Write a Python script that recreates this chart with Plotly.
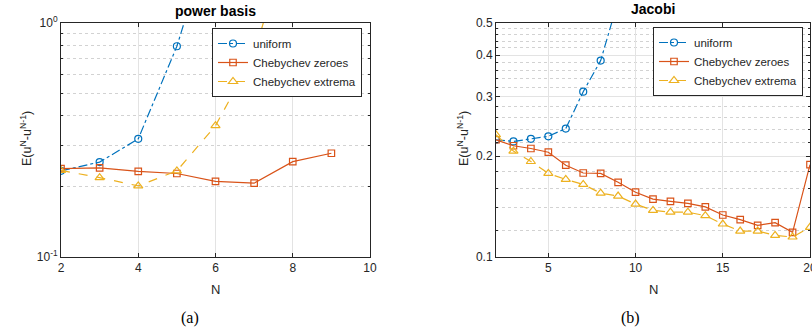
import plotly.graph_objects as go

# ---- data ----
N_left_uniform = [2, 3, 4, 5, 6]
E_left_uniform = [0.233, 0.254, 0.319, 0.792, 2.7]
N_left_zeros = [2, 3, 4, 5, 6, 7, 8, 9]
E_left_zeros = [0.238, 0.240, 0.2316, 0.227, 0.210, 0.2065, 0.255, 0.277]
N_left_extrema = [2, 3, 4, 5, 6, 7, 8]
E_left_extrema = [0.234, 0.218, 0.201, 0.233, 0.363, 0.73, 2.7]

N_right_uniform = [2, 3, 4, 5, 6, 7, 8, 9]
E_right_uniform = [0.2236, 0.221, 0.225, 0.229, 0.2415, 0.311, 0.385, 0.58]
N_right = list(range(2, 21))
E_right_zeros = [0.2236, 0.2146, 0.2106, 0.2053, 0.1878, 0.178, 0.1775, 0.167,
                 0.156, 0.1488, 0.1465, 0.1445, 0.141, 0.1334, 0.1292, 0.1243,
                 0.1266, 0.1184, 0.1884]
E_right_extrema = [0.2314, 0.2068, 0.1926, 0.1775, 0.1703, 0.1646, 0.155, 0.1519,
                   0.1438, 0.1377, 0.136, 0.136, 0.1328, 0.1254, 0.1195, 0.1195,
                   0.116, 0.1147, 0.1226]

series_names = ["uniform", "Chebychev zeroes", "Chebychev extrema"]
left_xticks = [2, 4, 6, 8, 10]
right_xticks = [5, 10, 15, 20]
left_yticks = [0.1, 1]
left_yticktext = ["10<sup>-1</sup>", "10<sup>0</sup>"]
right_yticks = [0.1, 0.2, 0.3, 0.4, 0.5]
right_yticktext = ["0.1", "0.2", "0.3", "0.4", "0.5"]
left_minor = [0.2, 0.3, 0.4, 0.5, 0.6, 0.7, 0.8, 0.9]
right_minor = [0.12, 0.14, 0.16, 0.18, 0.22, 0.24, 0.26, 0.28, 0.32, 0.34,
               0.36, 0.38, 0.42, 0.44, 0.46, 0.48]

BLUE = "#0072BD"
ORANGE = "#D95319"
YELLOW = "#EDB120"
AX = "#262626"
FONT = "Liberation Sans, Arial, sans-serif"

W, H = 812, 333

def px(x):
    return x / W

def py(y):
    return 1 - y / H

fig = go.Figure()

def add_series(xs, ys, name, color, dash, symbol, xa, ya, legend, size):
    fig.add_trace(go.Scatter(
        x=xs, y=ys, name=name, mode="lines+markers",
        line=dict(color=color, width=1.2, dash=dash),
        marker=dict(symbol=symbol, size=size, color=color,
                    line=dict(color=color, width=1.2)),
        xaxis=xa, yaxis=ya, legend=legend, cliponaxis=True))

add_series(N_left_uniform, E_left_uniform, series_names[0], BLUE, "dashdot", "circle-open", "x", "y", "legend", 7)
add_series(N_left_zeros, E_left_zeros, series_names[1], ORANGE, "solid", "square-open", "x", "y", "legend", 6.5)
add_series(N_left_extrema, E_left_extrema, series_names[2], YELLOW, "dash", "triangle-up-open", "x", "y", "legend", 8)

add_series(N_right_uniform, E_right_uniform, series_names[0], BLUE, "dashdot", "circle-open", "x2", "y2", "legend2", 7)
add_series(N_right, E_right_zeros, series_names[1], ORANGE, "solid", "square-open", "x2", "y2", "legend2", 6.5)
add_series(N_right, E_right_extrema, series_names[2], YELLOW, "dash", "triangle-up-open", "x2", "y2", "legend2", 8)

common_axis = dict(showline=True, linecolor=AX, linewidth=1, mirror="ticks",
                   ticks="inside", ticklen=4, tickcolor=AX, zeroline=False,
                   tickfont=dict(family=FONT, size=12, color=AX),
                   gridcolor="#e3e3e3", gridwidth=1, automargin=False,
                   ticklabeloverflow="allow")

MINOR_GRID = "#d2d2d2"

L0, L1 = 61, 370
R0, R1 = 496, 810
T, B = 22.5, 257

fig.update_layout(
    width=W, height=H,
    margin=dict(l=0, r=0, t=0, b=0),
    paper_bgcolor="white", plot_bgcolor="white",
    font=dict(family=FONT, size=12, color=AX),
    xaxis=dict(domain=[px(L0), px(L1)], range=[2, 10], tickvals=left_xticks,
               showgrid=True, anchor="y", **common_axis),
    yaxis=dict(domain=[py(B), py(T)], type="log", range=[-1, 0],
               tickvals=left_yticks, ticktext=left_yticktext, showgrid=False,
               anchor="x",
               minor=dict(tickvals=left_minor, showgrid=True, griddash="dot",
                          gridcolor=MINOR_GRID, ticks="inside", ticklen=2,
                          tickcolor=AX),
               **common_axis),
    xaxis2=dict(domain=[px(R0), px(R1)], range=[2, 20], tickvals=right_xticks,
                showgrid=True, anchor="y2", **common_axis),
    yaxis2=dict(domain=[py(B), py(T)], type="log", range=[-1, -0.30103],
                tickvals=right_yticks, ticktext=right_yticktext, showgrid=True,
                anchor="x2",
                minor=dict(tickvals=right_minor, showgrid=True, griddash="dot",
                           gridcolor=MINOR_GRID, ticks="inside", ticklen=2,
                           tickcolor=AX),
                **common_axis),
    legend=dict(x=px(362), y=py(28), xanchor="right", yanchor="top",
                bgcolor="white", bordercolor=AX, borderwidth=1,
                font=dict(family=FONT, size=11.5, color=AX),
                itemwidth=30, tracegroupgap=0),
    legend2=dict(x=px(803), y=py(27), xanchor="right", yanchor="top",
                 bgcolor="white", bordercolor=AX, borderwidth=1,
                 font=dict(family=FONT, size=11.5, color=AX),
                 itemwidth=30, tracegroupgap=0),
    showlegend=True,
)

ytitle = "E(u<sup>N</sup>-u<sup>N-1</sup>)"
annos = [
    dict(text="<b>power basis</b>", x=px((L0 + L1) / 2), y=py(11), size=14, family=FONT, angle=0),
    dict(text="<b>Jacobi</b>", x=px((R0 + R1) / 2), y=py(9), size=14, family=FONT, angle=0),
    dict(text="N", x=px((L0 + L1) / 2), y=py(289), size=13, family=FONT, angle=0),
    dict(text="N", x=px((R0 + R1) / 2), y=py(289), size=13, family=FONT, angle=0),
    dict(text="(a)", x=px(190), y=py(318), size=16, family="Liberation Serif, Times New Roman, serif", angle=0),
    dict(text="(b)", x=px(630), y=py(318), size=16, family="Liberation Serif, Times New Roman, serif", angle=0),
    dict(text=ytitle, x=px(26), y=py(139), size=12.5, family=FONT, angle=-90),
    dict(text=ytitle, x=px(463), y=py(139), size=12.5, family=FONT, angle=-90),
]
for a in annos:
    fig.add_annotation(text=a["text"], x=a["x"], y=a["y"], xref="paper", yref="paper",
                       xanchor="center", yanchor="middle", showarrow=False,
                       textangle=a["angle"],
                       font=dict(family=a["family"], size=a["size"],
                                 color="black" if a["text"] in ("(a)", "(b)") or a["text"].startswith("<b>") else AX))

# remove the default 8px body margin so the figure starts at the window corner
fig.write_html("out.html",
               config={"displayModeBar": False},
               post_script="document.body.style.margin='0';document.body.style.overflow='hidden';")
